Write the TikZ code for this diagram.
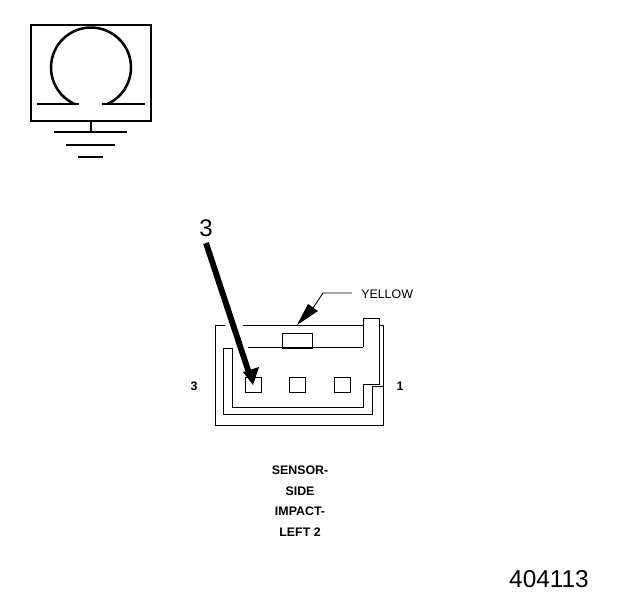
\documentclass[tikz,border=0pt]{standalone}
\usepackage{fontspec}
\setmainfont{Liberation Sans}
\begin{document}
\begin{tikzpicture}[x=0.75pt,y=-0.75pt,
  wire/.style={draw=black,line width=0.7pt,line cap=butt},
  heavy/.style={draw=black,line width=1.6pt},
  label/.style={inner sep=0pt,font=\fontsize{9.3}{11}\selectfont},
  caption/.style={inner sep=0pt,font=\fontsize{9.3}{11}\selectfont\bfseries},
  pin/.style={draw=black,line width=0.7pt,minimum width=12pt,minimum height=11.5pt,inner sep=0pt,anchor=north west}]
\useasboundingbox (0,0) rectangle (624,600);
\fill[white] (0,0) rectangle (624,600);
% omega symbol box
\draw[heavy] (31,25) rectangle (151,121);
\draw[heavy] (37,104) -- (79,104);
\draw[heavy] (102,104) -- (145,104);
\draw[draw=black,line width=1.9pt] (74.6,104) arc[start angle=114.2,delta angle=311.6,radius=40];
% ground
\draw[heavy] (91,121) -- (91,132);
\draw[heavy] (54,132) -- (127,132);
\draw[heavy] (66,145) -- (115,145);
\draw[heavy] (78,157) -- (103,157);
% connector body
\draw[wire] (225,325) -- (215,325) -- (215,425) -- (383,425) -- (383,325) -- (379,325);
\draw[wire] (243,325) -- (363,325);
\draw[wire] (363,347) -- (363,318) -- (379,318) -- (379,384) -- (363,384) -- (363,407) -- (232,407) -- (232,348) -- (223,348) -- (223,414) -- (372,414) -- (372,386);
\draw[wire] (372,386) -- (383,386);
\draw[wire] (248,347) -- (363,347);
\node[draw=black,line width=0.7pt,minimum width=22.5pt,minimum height=10.5pt,inner sep=0pt,anchor=north west] (tab) at (282,333) {};
\draw[line width=1.5pt] (tab.south west) -- (tab.south east);
\node[pin] (pinA) at (245,377) {};
\node[pin] (pinB) at (289,377) {};
\node[pin] (pinC) at (334,377) {};
% yellow leader
\node[label,anchor=west] (yellow) at (361,294) {YELLOW};
\coordinate (bend) at (323,293);
\coordinate (tip) at (297,325);
\draw[wire] (352,293) -- (bend) -- (313,308);
\fill[black] (tip) -- (308,304) -- (318,311) -- cycle;
% big arrow
\node[inner sep=0pt,font=\fontsize{18}{20}\selectfont] (num) at (206,228) {3};
\coordinate (tail) at (206,243);
\coordinate (pt) at (253,385);
\draw[line width=4.4pt] (tail) -- (249,373);
\fill[black] (pt) -- (243,372) -- (259,367) -- cycle;
% labels
\node[label,font=\fontsize{9.3}{11}\selectfont\bfseries] (three) at (194,386) {3};
\node[label,font=\fontsize{9.3}{11}\selectfont\bfseries] (one) at (400,386) {1};
\node[caption] (c1) at (300,470) {SENSOR-};
\node[caption] (c2) at (300,491) {SIDE};
\node[caption] (c3) at (300,511) {IMPACT-};
\node[caption] (c4) at (300,532) {LEFT 2};
\node[inner sep=0pt,font=\fontsize{18.3}{20}\selectfont] (code) at (549,579) {404113};
\end{tikzpicture}
\end{document}
